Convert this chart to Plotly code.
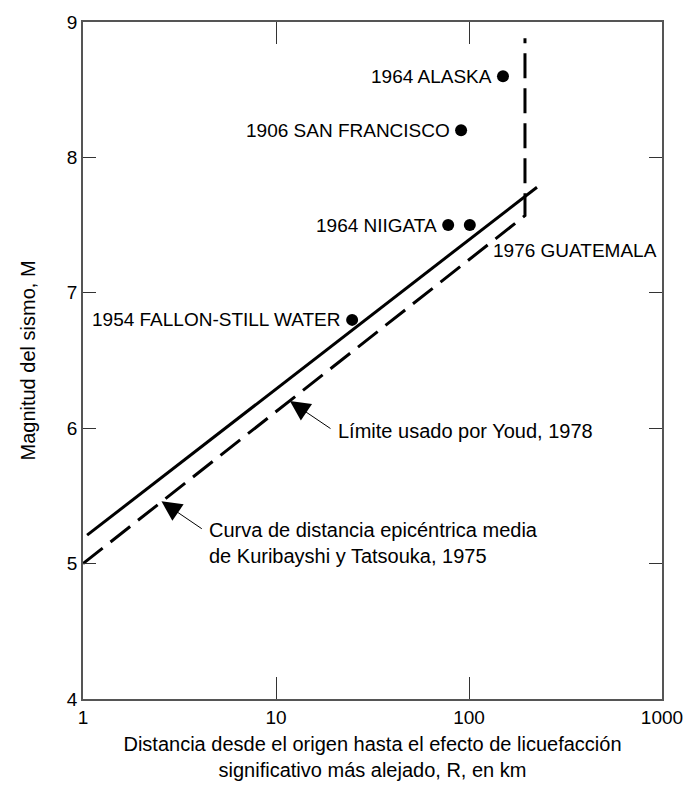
import numpy as np
import plotly.graph_objects as go

# ---- data ----
quake_names = ["1964 ALASKA", "1906 SAN FRANCISCO", "1964 NIIGATA", "1976 GUATEMALA", "1954 FALLON-STILL WATER"]
quake_R = [150, 91, 78, 101, 24.8]
quake_M = [8.6, 8.2, 7.5, 7.5, 6.8]

kuri_R = [1.05, 225]          # Kuribayashi & Tatsuoka, 1975 (solid)
kuri_M = [5.21, 7.78]
youd_R = [1.0, 195, 195]      # Youd, 1978 (dashed)
youd_M = [5.0, 7.57, 8.88]

x_ticks = [1, 10, 100, 1000]
x_ticktext = ["1", "10", "100", "1000"]
y_ticks = [4, 5, 6, 7, 8, 9]

FONT = "Liberation Sans, Arial, sans-serif"

fig = go.Figure()
fig.add_trace(go.Scatter(x=kuri_R, y=kuri_M, mode="lines",
                         line=dict(color="black", width=3), showlegend=False, hoverinfo="skip"))
fig.add_trace(go.Scatter(x=youd_R, y=youd_M, mode="lines",
                         line=dict(color="black", width=3, dash="25px,10px"), showlegend=False, hoverinfo="skip"))
fig.add_trace(go.Scatter(x=quake_R, y=quake_M, mode="markers",
                         marker=dict(color="black", size=12), showlegend=False, hoverinfo="skip"))

lg = np.log10
ann = []
for i in [0, 1, 2, 4]:
    ann.append(dict(x=lg(quake_R[i]), y=quake_M[i], xref="x", yref="y", text=quake_names[i],
                    showarrow=False, xanchor="right", yanchor="middle", xshift=-9,
                    font=dict(family=FONT, size=19, color="black")))
ann.append(dict(x=lg(150), y=7.31, xref="x", yref="y", text=quake_names[3],
                showarrow=False, xanchor="left", yanchor="middle", xshift=-12,
                font=dict(family=FONT, size=19, color="black")))

ann.append(dict(x=lg(11.8), y=6.2, ax=lg(19.5), ay=5.99, xref="x", yref="y", axref="x", ayref="y",
                text="", showarrow=True, arrowhead=2, arrowsize=4, arrowwidth=1, arrowcolor="black"))
ann.append(dict(x=lg(2.55), y=5.46, ax=lg(4.2), ay=5.25, xref="x", yref="y", axref="x", ayref="y",
                text="", showarrow=True, arrowhead=2, arrowsize=4, arrowwidth=1, arrowcolor="black"))
ann.append(dict(x=lg(20.5), y=5.98, xref="x", yref="y", text="Límite usado por Youd, 1978",
                showarrow=False, xanchor="left", yanchor="middle",
                font=dict(family=FONT, size=20, color="black")))
ann.append(dict(x=lg(4.4), y=5.15, xref="x", yref="y",
                text="Curva de distancia epicéntrica media<br>de Kuribayshi y Tatsouka, 1975",
                showarrow=False, xanchor="left", yanchor="middle", align="left",
                font=dict(family=FONT, size=20, color="black")))

fig.update_layout(
    width=700, height=799,
    margin=dict(l=83, r=38, t=17, b=100),
    paper_bgcolor="white", plot_bgcolor="white",
    annotations=ann,
    font=dict(family=FONT, size=19, color="black"),
)
fig.update_xaxes(type="log", range=[0, 3], tickvals=x_ticks, ticktext=x_ticktext,
                 ticks="inside", ticklen=22, tickcolor="#333", tickwidth=1,
                 showline=True, linecolor="#555", linewidth=1.5, mirror="allticks",
                 showgrid=False, zeroline=False,
                 tickfont=dict(family=FONT, size=19, color="black"),
                 title=dict(text="Distancia desde el origen hasta el efecto de licuefacción<br>significativo más alejado, R, en km",
                            font=dict(family=FONT, size=20, color="black"), standoff=10))
fig.update_yaxes(range=[4, 9], tickvals=y_ticks,
                 ticks="inside", ticklen=13, tickcolor="#333", tickwidth=1,
                 showline=True, linecolor="#555", linewidth=1.5, mirror="allticks",
                 showgrid=False, zeroline=False,
                 tickfont=dict(family=FONT, size=19, color="black"),
                 title=dict(text="Magnitud del sismo, M", font=dict(family=FONT, size=20, color="black"), standoff=26))

fig.write_html("out.html")
